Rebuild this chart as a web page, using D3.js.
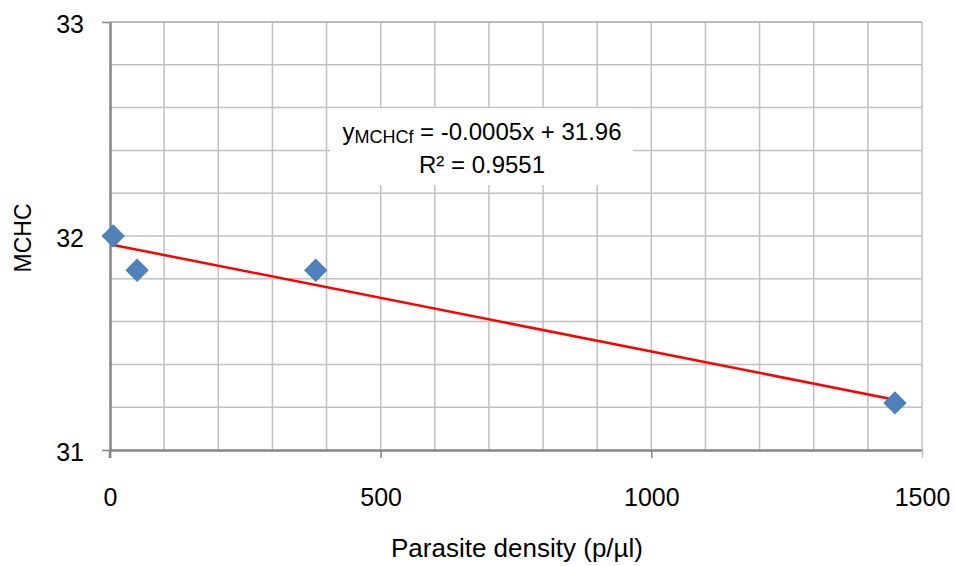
<!DOCTYPE html>
<html lang="en">
  <head>
    <meta charset="UTF-8" />
    <title>MCHC vs parasite density</title>
    <script src="https://cdn.jsdelivr.net/npm/d3@7"></script>
    <style>
      body { margin: 0; background: #fff; }
      svg text { font-family: "Liberation Sans", Arial, sans-serif; fill: #000; }
    </style>
  </head>
  <body>
    <div id="chart"></div>
    <script>
      // data
      const density = [6, 50, 380, 1450];
      const mchc = [32.0, 31.84, 31.84, 31.22];
      const xTicks = [0, 500, 1000, 1500];
      const yTicks = [31, 32, 33];
      const xGridStep = 100;
      const yGridStep = 0.2;
      const eqLabel = ["y", "MCHCf", " = -0.0005x + 31.96"];
      const r2Label = "R\u00b2 = 0.9551";

      const margin = { top: 22, right: 34, bottom: 116, left: 110 },
        width = 956 - margin.left - margin.right,
        height = 566 - margin.top - margin.bottom;

      const svg = d3
        .select("#chart")
        .append("svg")
        .attr("width", 956)
        .attr("height", 566);

      const g = svg
        .append("g")
        .attr("transform", "translate(" + margin.left + "," + margin.top + ")");

      const x = d3.scaleLinear().domain([0, 1500]).range([0, width]);
      const y = d3.scaleLinear().domain([31, 33]).range([height, 0]);

      // gridlines
      const xGrid = d3.range(0, 1500 + 1, xGridStep);
      const yGrid = d3.range(0, 11).map((i) => 31 + i * yGridStep);

      g.selectAll(".vgrid")
        .data(xGrid.filter((d) => d > 0))
        .enter()
        .append("line")
        .attr("x1", (d) => x(d))
        .attr("x2", (d) => x(d))
        .attr("y1", 0)
        .attr("y2", height)
        .attr("stroke", "#c0c0c0")
        .attr("stroke-width", 1.5);

      g.selectAll(".hgrid")
        .data(yGrid.filter((d) => d > 31.01))
        .enter()
        .append("line")
        .attr("x1", 0)
        .attr("x2", width)
        .attr("y1", (d) => y(d))
        .attr("y2", (d) => y(d))
        .attr("stroke", (d) => (d > 32.99 ? "#a6a6a6" : "#c0c0c0"))
        .attr("stroke-width", 1.5);

      // axes
      const xAxis = d3
        .axisBottom(x)
        .tickValues(xTicks)
        .tickFormat(d3.format("d"))
        .tickSize(8)
        .tickSizeOuter(0)
        .tickPadding(30);
      const yAxis = d3
        .axisLeft(y)
        .tickValues(yTicks)
        .tickFormat(d3.format("d"))
        .tickSize(8)
        .tickSizeOuter(0)
        .tickPadding(18);

      const gx = g
        .append("g")
        .attr("transform", "translate(0," + height + ")")
        .call(xAxis);
      const gy = g.append("g").call(yAxis);

      [gx, gy].forEach((a) => {
        a.select(".domain").attr("stroke", "#868686").attr("stroke-width", 2.5);
        a.selectAll(".tick line").attr("stroke", "#868686").attr("stroke-width", 1.5);
        a.selectAll(".tick text")
          .attr("font-size", 25)
          .attr("font-family", '"Liberation Sans", Arial, sans-serif')
          .attr("fill", "#000");
      });
      gy.selectAll(".tick text").attr("dy", "0.4em");
      gx.selectAll(".tick").filter((d) => d === 1500).select("line").attr("stroke", "#c0c0c0");
      // left axis runs down past the x axis like the tick marks
      gy.append("line")
        .attr("x1", 0)
        .attr("x2", 0)
        .attr("y1", height)
        .attr("y2", height + 8)
        .attr("stroke", "#868686")
        .attr("stroke-width", 2.5);

      // linear trendline (least squares)
      const mx = d3.mean(density),
        my = d3.mean(mchc);
      const slope =
        d3.sum(density, (d, i) => (d - mx) * (mchc[i] - my)) /
        d3.sum(density, (d) => (d - mx) * (d - mx));
      const icpt = my - slope * mx;
      const xr = d3.extent(density);

      g.append("line")
        .attr("x1", x(xr[0]))
        .attr("y1", y(icpt + slope * xr[0]))
        .attr("x2", x(xr[1]))
        .attr("y2", y(icpt + slope * xr[1]))
        .attr("stroke", "#ff0000")
        .attr("stroke-width", 2.5);

      // diamond markers
      const points = density.map((d, i) => ({ x: d, y: mchc[i] }));
      g.selectAll(".pt")
        .data(points)
        .enter()
        .append("path")
        .attr("d", d3.symbol().type(d3.symbolSquare).size(240))
        .attr("transform", (d) => "translate(" + x(d.x) + "," + y(d.y) + ") rotate(45)")
        .attr("fill", "#4f81bd")
        .attr("stroke", "#4a7ebb")
        .attr("stroke-width", 1);

      // equation label
      svg.append("rect")
        .attr("x", 330)
        .attr("y", 108)
        .attr("width", 303)
        .attr("height", 77)
        .attr("fill", "#fff");

      const eq = svg
        .append("text")
        .attr("x", 482)
        .attr("y", 140)
        .attr("text-anchor", "middle")
        .attr("font-size", 24);
      eq.append("tspan").text(eqLabel[0]);
      eq.append("tspan").attr("font-size", 18).attr("dy", 3).text(eqLabel[1]);
      eq.append("tspan").attr("dy", -3).text(eqLabel[2]);

      svg.append("text")
        .attr("x", 482)
        .attr("y", 173)
        .attr("text-anchor", "middle")
        .attr("font-size", 24)
        .text(r2Label);

      // axis titles
      svg.append("text")
        .attr("x", 517)
        .attr("y", 557)
        .attr("text-anchor", "middle")
        .attr("font-size", 26)
        .text("Parasite density (p/\u00b5l)");

      svg.append("text")
        .attr("transform", "translate(31,238) rotate(-90)")
        .attr("text-anchor", "middle")
        .attr("font-size", 23)
        .text("MCHC");
    </script>
  </body>
</html>
